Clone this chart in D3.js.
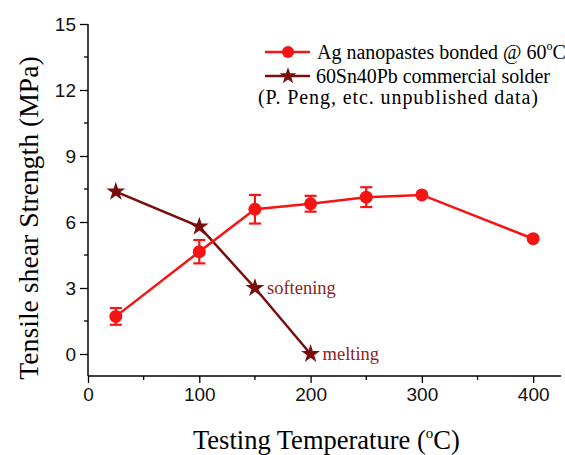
<!DOCTYPE html>
<html><head><meta charset="utf-8">
<script src="https://cdn.jsdelivr.net/npm/d3@7"></script>
<style>body{margin:0;background:#fff}svg{display:block}</style>
</head><body>
<svg id="c" width="565" height="455"></svg>
<script>
// Data
const agTemps = [25, 100, 150, 200, 250, 300, 400];
const agValues = [1.71, 4.65, 6.58, 6.83, 7.13, 7.23, 5.24];
const agErrors = [0.38, 0.53, 0.65, 0.36, 0.45, 0, 0];
const snTemps = [25, 100, 150, 200];
const snValues = [7.38, 5.79, 3.0, 0.0];
const xTicks = [0, 100, 200, 300, 400];
const yTicks = [0, 3, 6, 9, 12, 15];
const legendLabels = ["Ag nanopastes bonded @ 60", "60Sn40Pb commercial solder", "(P. Peng, etc. unpublished data)"];
const notes = [{t: 150, v: 3.0, label: "softening"}, {t: 200, v: 0.0, label: "melting"}];

const RED = "#f51414", MAROON = "#7a0c0c", NOTE = "#8b2323";
const SERIF = "Liberation Serif, Times New Roman, serif";
const svg = d3.select("#c");
const x = d3.scaleLinear().domain([0, 425]).range([88, 561]);
const y = d3.scaleLinear().domain([-1, 15]).range([376, 24]);

// axes
const xAxis = d3.axisBottom(x).tickValues(xTicks).tickSize(7).tickSizeOuter(0).tickPadding(5);
const gx = svg.append("g").attr("transform", "translate(0,376)").call(xAxis);
const yAxis = d3.axisLeft(y).tickValues(yTicks).tickSize(8).tickSizeOuter(0).tickPadding(4);
const gy = svg.append("g").attr("transform", "translate(88,0)").call(yAxis);
// minor ticks
svg.append("g").selectAll("line").data(d3.range(50, 425, 100)).join("line")
  .attr("x1", d => x(d)).attr("x2", d => x(d)).attr("y1", 376).attr("y2", 380)
  .attr("stroke", "#000").attr("stroke-width", 1.3);
svg.append("g").selectAll("line").data(d3.range(1.5, 15, 3)).join("line")
  .attr("x1", 84).attr("x2", 88).attr("y1", d => y(d)).attr("y2", d => y(d))
  .attr("stroke", "#000").attr("stroke-width", 1.3);
[gx, gy].forEach(g => {
  g.select(".domain").attr("stroke", "#000").attr("stroke-width", 1.5);
  g.selectAll(".tick line").attr("stroke-width", 1.3);
  g.selectAll("text").attr("font-family", "Liberation Sans, Arial, sans-serif").attr("font-size", 19).attr("fill", "#111");
});
gx.select(".domain").attr("d", "M88,0H561");
gy.select(".domain").attr("d", "M0,24V376");

// axis titles
const xt = svg.append("text").attr("x", 193).attr("y", 449).attr("text-anchor", "start")
  .attr("font-family", SERIF).attr("font-size", 26.5).attr("fill", "#000");
xt.append("tspan").text("Testing Temperature (");
xt.append("tspan").attr("font-size", 15).attr("dy", -11).text("o");
xt.append("tspan").attr("dy", 11).text("C)");
svg.append("text").attr("transform", "translate(38,218) rotate(-90)").attr("text-anchor", "middle")
  .attr("font-family", SERIF).attr("font-size", 27.7).attr("fill", "#000")
  .text("Tensile shear Strength (MPa)");

// Sn-Pb series
const line = d3.line().x(d => x(d[0])).y(d => y(d[1]));
const snData = snTemps.map((t, i) => [t, snValues[i]]);
svg.append("path").datum(snData).attr("d", line).attr("fill", "none").attr("stroke", MAROON).attr("stroke-width", 2.5);
const star = d3.symbol().type(d3.symbolStar).size(110);
svg.append("g").selectAll("path").data(snData).join("path")
  .attr("transform", d => `translate(${x(d[0])},${y(d[1])})`).attr("d", star).attr("fill", MAROON);

// Ag series
const agData = agTemps.map((t, i) => [t, agValues[i], agErrors[i]]);
svg.append("path").datum(agData).attr("d", line).attr("fill", "none").attr("stroke", RED).attr("stroke-width", 2.5);
const eb = svg.append("g").attr("stroke", RED).attr("stroke-width", 2.2);
agData.filter(d => d[2] > 0).forEach(d => {
  const cx = x(d[0]), y1 = y(d[1] - d[2]), y2 = y(d[1] + d[2]);
  eb.append("line").attr("x1", cx).attr("x2", cx).attr("y1", y1).attr("y2", y2);
  eb.append("line").attr("x1", cx - 6).attr("x2", cx + 6).attr("y1", y1).attr("y2", y1);
  eb.append("line").attr("x1", cx - 6).attr("x2", cx + 6).attr("y1", y2).attr("y2", y2);
});
svg.append("g").selectAll("circle").data(agData).join("circle")
  .attr("cx", d => x(d[0])).attr("cy", d => y(d[1])).attr("r", 6.5).attr("fill", RED);

// annotations
svg.append("g").selectAll("text").data(notes).join("text")
  .attr("x", d => x(d.t) + 12).attr("y", d => y(d.v) + 6)
  .attr("font-family", SERIF).attr("font-size", 18.5).attr("fill", NOTE)
  .text(d => d.label);

// legend
const lg = svg.append("g").attr("font-family", SERIF).attr("font-size", 20).attr("fill", "#000");
lg.append("line").attr("x1", 265).attr("x2", 310).attr("y1", 52).attr("y2", 52).attr("stroke", RED).attr("stroke-width", 2.5);
lg.append("circle").attr("cx", 288).attr("cy", 52).attr("r", 6).attr("fill", RED);
const t1 = lg.append("text").attr("x", 317).attr("y", 58.5);
t1.append("tspan").text(legendLabels[0]);
t1.append("tspan").attr("font-size", 12).attr("dy", -9).text("o");
t1.append("tspan").attr("dy", 9).text("C");
lg.append("line").attr("x1", 265).attr("x2", 310).attr("y1", 76).attr("y2", 76).attr("stroke", MAROON).attr("stroke-width", 2.5);
lg.append("path").attr("transform", "translate(288,76)").attr("d", d3.symbol().type(d3.symbolStar).size(90)).attr("fill", MAROON);
lg.append("text").attr("x", 316).attr("y", 82.5).attr("textLength", 234).attr("lengthAdjust", "spacing").text(legendLabels[1]);
lg.append("text").attr("x", 258).attr("y", 103.5).attr("textLength", 280).attr("lengthAdjust", "spacing").text(legendLabels[2]);
</script>
</body></html>
